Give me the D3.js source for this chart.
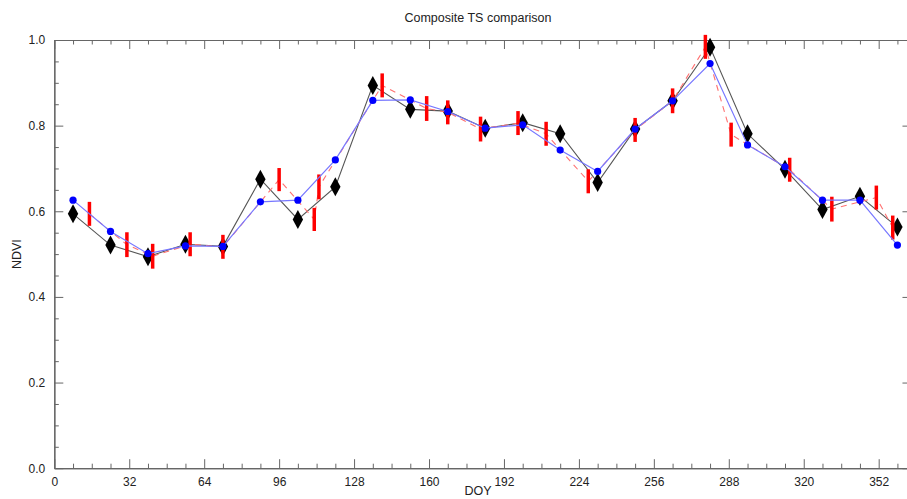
<!DOCTYPE html>
<html>
<head>
<meta charset="utf-8">
<script src="https://cdn.jsdelivr.net/npm/d3@7"></script>
<style>
  html, body { margin: 0; padding: 0; background: #fff; }
  svg { display: block; font-family: "Liberation Sans", Arial, Helvetica, sans-serif; }
</style>
</head>
<body>
<svg id="chart" width="907" height="499"></svg>
<script>
// ---- data ----
const compositeDays = [8, 24, 40, 56, 72, 88, 104, 120, 136, 152, 168, 184, 200, 216, 232, 248, 264, 280, 296, 312, 328, 344, 360];
const blackValues = [0.594, 0.521, 0.494, 0.523, 0.518, 0.675, 0.581, 0.657, 0.894, 0.838, 0.834, 0.794, 0.807, 0.781, 0.667, 0.792, 0.858, 0.983, 0.781, 0.698, 0.604, 0.635, 0.563];
const blueValues = [0.626, 0.553, 0.501, 0.519, 0.518, 0.622, 0.626, 0.720, 0.859, 0.860, 0.833, 0.794, 0.802, 0.743, 0.693, 0.792, 0.858, 0.945, 0.755, 0.704, 0.626, 0.626, 0.521];
const redDays = [15, 31, 42, 58, 72, 96, 111, 113, 140, 159, 168, 182, 198, 210, 228, 248, 264, 278, 289, 314, 332, 351, 358];
const redValues = [0.594, 0.522, 0.495, 0.523, 0.517, 0.674, 0.581, 0.657, 0.894, 0.840, 0.831, 0.792, 0.806, 0.781, 0.670, 0.790, 0.858, 0.984, 0.779, 0.697, 0.605, 0.632, 0.562];
const redErrors = [0.028, 0.029, 0.029, 0.028, 0.028, 0.027, 0.027, 0.029, 0.028, 0.029, 0.028, 0.029, 0.028, 0.028, 0.028, 0.028, 0.029, 0.028, 0.028, 0.028, 0.029, 0.028, 0.028];
const xMajorTicks = [0, 32, 64, 96, 128, 160, 192, 224, 256, 288, 320, 352];
const yMajorTicks = [0.0, 0.2, 0.4, 0.6, 0.8, 1.0];
const titleText = "Composite TS comparison";
const xLabel = "DOY";
const yLabel = "NDVI";

// ---- layout ----
const svg = d3.select("#chart");
const plotLeft = 54.3, plotTop = 40, plotH = 428.2;
const xMax = 366;
const pxPerDay = 2.342;
const x = d3.scaleLinear().domain([0, xMax]).range([plotLeft, plotLeft + xMax * pxPerDay]);
const y = d3.scaleLinear().domain([0, 1]).range([plotTop + plotH, plotTop]);
const plotRight = x(xMax), plotBottom = y(0);

const axisColor = "#666";
const xMinor = d3.range(0, xMax + 1, 8).filter(d => d % 32 !== 0);
const yMinor = d3.range(0, 1.0001, 0.05).filter(d => Math.abs(d * 5 - Math.round(d * 5)) > 1e-6);

function styleAxis(g) {
  g.selectAll("path.domain").attr("stroke", axisColor).attr("stroke-width", 1.2);
  g.selectAll(".tick line").attr("stroke", axisColor).attr("stroke-width", 1);
  g.selectAll(".tick text").attr("fill", "#222").style("font-size", "12px");
}

// bottom axis with labels
svg.append("g").attr("transform", `translate(0,${plotBottom})`)
  .call(d3.axisBottom(x).tickValues(xMajorTicks).tickSizeInner(-9).tickSizeOuter(0).tickPadding(7).tickFormat(d3.format("d")))
  .call(styleAxis)
  .call(g => g.selectAll(".tick text").attr("dy", "0.9em"));
svg.append("g").attr("transform", `translate(0,${plotBottom})`)
  .call(d3.axisBottom(x).tickValues(xMinor).tickSizeInner(-4.5).tickSizeOuter(0).tickFormat(""))
  .call(styleAxis);
// top axis
svg.append("g").attr("transform", `translate(0,${plotTop})`)
  .call(d3.axisTop(x).tickValues(xMajorTicks).tickSizeInner(-9).tickSizeOuter(0).tickFormat(""))
  .call(styleAxis);
svg.append("g").attr("transform", `translate(0,${plotTop})`)
  .call(d3.axisTop(x).tickValues(xMinor).tickSizeInner(-4.5).tickSizeOuter(0).tickFormat(""))
  .call(styleAxis);
// left axis
svg.append("g").attr("transform", `translate(${plotLeft},0)`)
  .call(d3.axisLeft(y).tickValues(yMajorTicks).tickSizeInner(-9).tickSizeOuter(0).tickPadding(9).tickFormat(d3.format(".1f")))
  .call(styleAxis);
svg.append("g").attr("transform", `translate(${plotLeft},0)`)
  .call(d3.axisLeft(y).tickValues(yMinor).tickSizeInner(-4.5).tickSizeOuter(0).tickFormat(""))
  .call(styleAxis);
// right axis
svg.append("g").attr("transform", `translate(${plotRight},0)`)
  .call(d3.axisRight(y).tickValues(yMajorTicks).tickSizeInner(-9).tickSizeOuter(0).tickFormat(""))
  .call(styleAxis);

// titles
svg.append("text").attr("x", 478).attr("y", 22).attr("text-anchor", "middle")
  .style("font-size", "12.5px").attr("fill", "#222").text(titleText);
svg.append("text").attr("x", 478).attr("y", 495).attr("text-anchor", "middle")
  .style("font-size", "12.5px").attr("fill", "#222").text(xLabel);
svg.append("text").attr("transform", `translate(21,${(plotTop + plotBottom) / 2}) rotate(-90)`)
  .attr("text-anchor", "middle").style("font-size", "12.5px").attr("fill", "#222").text(yLabel);

// ---- series ----
const blackData = compositeDays.map((d, i) => ({ d, v: blackValues[i] }));
const blueData = compositeDays.map((d, i) => ({ d, v: blueValues[i] }));
const redData = redDays.map((d, i) => ({ d, v: redValues[i], e: redErrors[i] }));
const line = d3.line().x(p => x(p.d)).y(p => y(p.v));

// black series
svg.append("path").datum(blackData).attr("d", line)
  .attr("fill", "none").attr("stroke", "#555").attr("stroke-width", 1.1);
const diamond = (cx, cy) => `M${cx},${cy - 9.5} L${cx + 5.2},${cy} L${cx},${cy + 9.5} L${cx - 5.2},${cy} Z`;
svg.append("g").selectAll("path").data(blackData).join("path")
  .attr("d", p => diamond(x(p.d), y(p.v))).attr("fill", "#000");

// red series
svg.append("path").datum(redData).attr("d", line)
  .attr("fill", "none").attr("stroke", "#ff7070").attr("stroke-width", 1.1).attr("stroke-dasharray", "6,5");
svg.append("g").selectAll("line").data(redData).join("line")
  .attr("x1", p => x(p.d)).attr("x2", p => x(p.d))
  .attr("y1", p => y(p.v + p.e)).attr("y2", p => y(p.v - p.e))
  .attr("stroke", "#ff0000").attr("stroke-width", 3.5);

// blue series
svg.append("path").datum(blueData).attr("d", line)
  .attr("fill", "none").attr("stroke", "#7777ff").attr("stroke-width", 1.2);
svg.append("g").selectAll("circle").data(blueData).join("circle")
  .attr("cx", p => x(p.d)).attr("cy", p => y(p.v)).attr("r", 3.6).attr("fill", "#0000ff");
</script>
</body>
</html>
